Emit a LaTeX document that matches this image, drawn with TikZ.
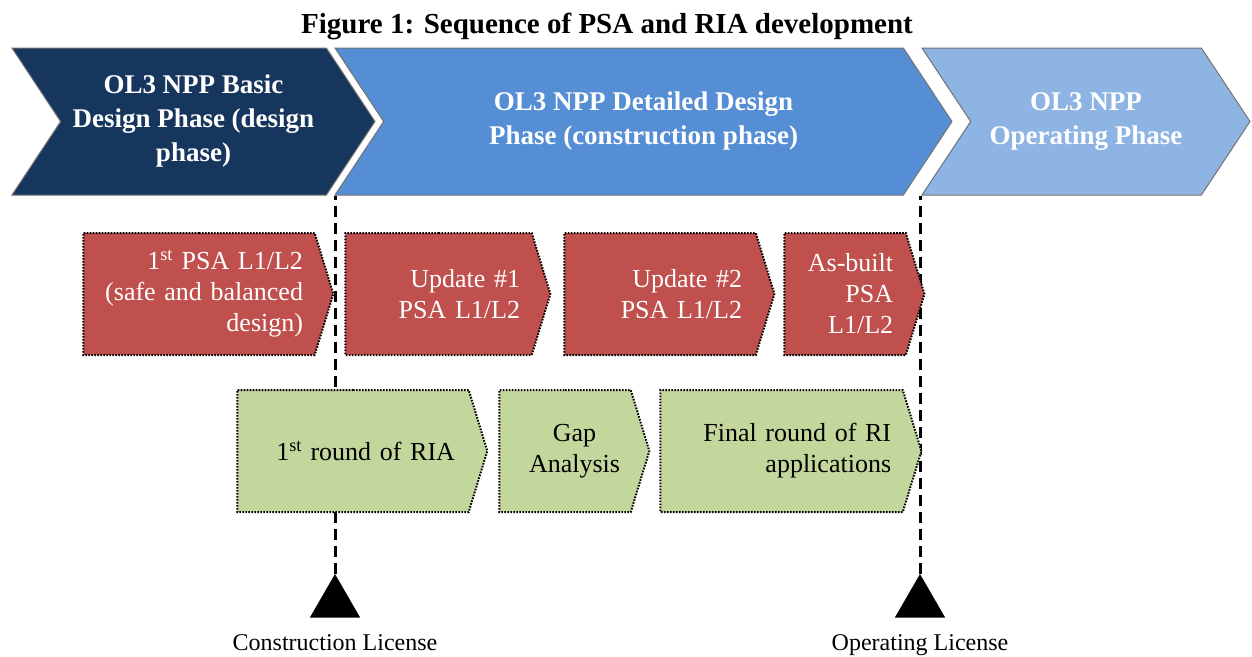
\documentclass[tikz,border=0pt]{standalone}
\usepackage{fontspec}
\setmainfont{Liberation Serif}
\usetikzlibrary{shapes.symbols,shapes.geometric,positioning,backgrounds}

\definecolor{phasenavy}{RGB}{23,54,93}
\definecolor{phaseblue}{RGB}{85,142,213}
\definecolor{phaselight}{RGB}{142,180,227}
\definecolor{psared}{RGB}{192,80,77}
\definecolor{riagreen}{RGB}{195,214,155}

\begin{document}
\begin{tikzpicture}[
    x=1pt, y=-1pt,
    phase/.style={signal, signal from=west, signal to=east, signal pointer angle=113,
        draw=black!55, line width=1pt, minimum height=147pt, inner sep=0pt,
        text=white, align=center, font=\fontsize{27}{34}\selectfont\bfseries},
    psabox/.style={signal, signal to=east, signal pointer angle=146, fill=psared,
        draw=black, line width=2pt, dash pattern=on 1.6pt off 1.4pt,
        minimum height=122pt, inner sep=0pt, text=white, align=right,
        font=\fontsize{26}{31}\selectfont},
    riabox/.style={psabox, fill=riagreen, text=black},
    licline/.style={black, line width=3pt, dash pattern=on 11pt off 6pt},
    licmark/.style={regular polygon, regular polygon sides=3, fill=black,
        inner sep=0pt, minimum size=58pt},
    liclabel/.style={font=\fontsize{24}{28}\selectfont}
]
\useasboundingbox (0,0) rectangle (1252,656);

% Title
\node [font=\fontsize{29}{33}\selectfont\bfseries] (title) at (607,26) {Figure 1: Sequence of PSA and RIA development};

% Phases
\node [phase, fill=phasenavy, minimum width=363pt] (basic) at (193.5,121.5) {OL3 NPP Basic\\Design Phase (design\\phase)};
\node [phase, fill=phaseblue, minimum width=617pt] (detailed) at (643.5,121.5) {OL3 NPP Detailed Design\\Phase (construction phase)};
\node [phase, fill=phaselight, minimum width=328pt] (operating) at (1086,121.5) {OL3 NPP\\Operating Phase};

% PSA row
\node [psabox, minimum width=250pt, text width=208pt] (psafirst) at (199,294) {1\textsuperscript{st} PSA L1/L2\\(safe and balanced\\design)};
\node [psabox, minimum width=205pt, text width=163pt, right=10pt of psafirst] (psaupone) {Update \#1\\PSA L1/L2};
\node [psabox, minimum width=210pt, text width=164pt, right=12pt of psaupone] (psauptwo) {Update \#2\\PSA L1/L2};
\node [psabox, minimum width=140pt, text width=96pt, right=8pt of psauptwo] (psabuilt) {\mbox{As-built}\\PSA\\L1/L2};

% RIA row
\node [riabox, minimum width=250pt, text width=204pt] (riafirst) at (353,451) {1\textsuperscript{st} round of RIA};
\node [riabox, minimum width=150pt, text width=110pt, right=10pt of riafirst] (riagap) {\begin{tabular}{@{}c@{}}Gap\\Analysis\end{tabular}};
\node [riabox, minimum width=261pt, text width=219pt, right=9pt of riagap] (riafinal) {Final round of RI\\applications};

% Licenses
\node [licmark] (clmark) at (335,603) {};
\node [licmark] (olmark) at (920,603) {};
\node [liclabel, below=13pt of clmark] (cllabel) {Construction License};
\node [liclabel, below=13pt of olmark] (ollabel) {Operating License};

% Edges
\begin{scope}[on background layer]
\draw [licline] (clmark.corner 1) -- (clmark.corner 1 |- detailed.south);
\draw [licline] (olmark.corner 1) -- (olmark.corner 1 |- detailed.south);
\end{scope}

\end{tikzpicture}
\end{document}
